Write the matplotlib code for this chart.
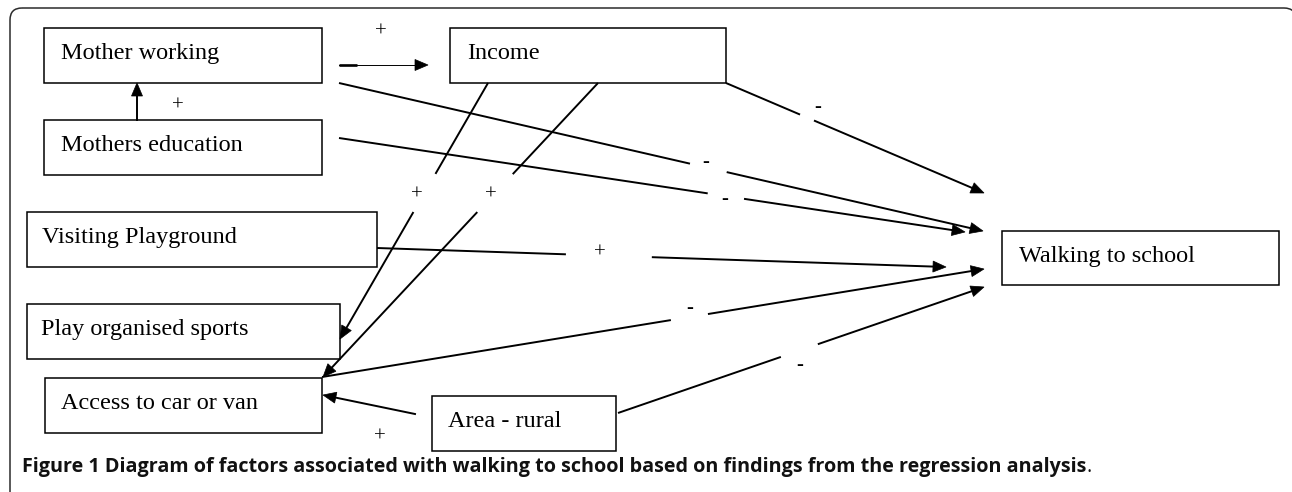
import matplotlib
matplotlib.use("Agg")
import matplotlib.pyplot as plt
from matplotlib.patches import Rectangle, FancyBboxPatch, Polygon
import numpy as np

# ---------------- data ----------------
node_names = ["Mother working", "Income", "Mothers education", "Visiting Playground",
              "Play organised sports", "Access to car or van", "Area - rural",
              "Walking to school"]
edge_sources = ["Mother working", "Mothers education", "Mother working", "Mothers education",
                "Income", "Income", "Income", "Visiting Playground",
                "Access to car or van", "Area - rural", "Area - rural"]
edge_targets = ["Income", "Mother working", "Walking to school", "Walking to school",
                "Walking to school", "Play organised sports", "Access to car or van",
                "Walking to school", "Walking to school", "Access to car or van",
                "Walking to school"]
edge_signs = ["+", "+", "-", "-", "-", "+", "+", "+", "-", "+", "-"]
caption_bold = "Figure 1 Diagram of factors associated with walking to school based on findings from the regression analysis"
caption_end = "."

# ---------------- layout (pixel space) ----------------
W, H = 1292, 492
box_geom = {  # x0, x1, y0 (top), y1 (bottom)
    "Mother working": (44, 322, 28, 83),
    "Income": (450, 726, 28, 83),
    "Mothers education": (44, 322, 120, 175),
    "Visiting Playground": (27, 377, 212, 267),
    "Play organised sports": (27, 340, 304, 359),
    "Access to car or van": (45, 322, 378, 433),
    "Area - rural": (432, 616, 396, 451),
    "Walking to school": (1002, 1279, 231, 285),
}
text_dx = {"Mother working": 17, "Income": 17, "Mothers education": 17,
           "Visiting Playground": 15, "Play organised sports": 14,
           "Access to car or van": 16, "Area - rural": 16, "Walking to school": 17}
# per-edge geometry: start, end, gap (fractions along line) and sign label position
edge_geom = [
    ((339, 65), (428, 65), None, (381, 32)),
    ((137, 120), (137, 83), None, (178, 106)),
    ((339, 83), (983, 231), (0.545, 0.602), (706, 162)),
    ((339, 138), (965, 232), (0.589, 0.647), (725, 199)),
    ((726, 83), (984, 193), (0.287, 0.341), (818, 107)),
    ((488, 83), (340, 339), (0.355, 0.504), (417, 195)),
    ((598, 83), (323, 377), (0.31, 0.439), (491, 195)),
    ((377, 248), (946, 267), (0.332, 0.483), (600, 253)),
    ((322, 377), (984, 269), (0.527, 0.583), (690, 308)),
    ((415, 414), (323, 395), None, (380, 437)),
    ((618, 413), (984, 287), (0.445, 0.546), (800, 365)),
]

fig = plt.figure(figsize=(W / 100, H / 100), dpi=100)
ax = fig.add_axes([0, 0, 1, 1])
ax.set_xlim(0, W)
ax.set_ylim(H, 0)
ax.axis("off")

SERIF = ["Liberation Serif", "DejaVu Serif"]

# outer frame
frame = FancyBboxPatch((10, 8), 1286, 700, boxstyle="round,pad=0,rounding_size=12",
                       fill=False, ec="#2b2b2b", lw=1.1)
ax.add_patch(frame)

# boxes
for name in node_names:
    x0, x1, y0, y1 = box_geom[name]
    ax.add_patch(Rectangle((x0, y0), x1 - x0, y1 - y0, fc="white", ec="black", lw=1.1, zorder=2))
    ax.text(x0 + text_dx[name], y0 + 31, name, fontsize=17.5, family=SERIF,
            ha="left", va="baseline", color="black", zorder=3)

LW = 1.4
HEAD_L, HEAD_W = 13, 5.5


def arrow_head(p0, p1):
    p0 = np.array(p0, float)
    p1 = np.array(p1, float)
    d = (p1 - p0) / np.linalg.norm(p1 - p0)
    n = np.array([-d[1], d[0]])
    base = p1 - d * HEAD_L
    ax.add_patch(Polygon([p1, base + n * HEAD_W, base - n * HEAD_W], closed=True,
                         fc="black", ec="black", lw=0.5, zorder=4))
    return base


for i, (src, tgt, sign) in enumerate(zip(edge_sources, edge_targets, edge_signs)):
    start, end, gap, lab = edge_geom[i]
    s = np.array(start, float)
    e = np.array(end, float)
    d = e - s
    dn = d / np.linalg.norm(d)
    base = arrow_head(s, e)
    line_end = base + dn * 2
    if i == 0:
        # thin line with thicker stub at start
        ax.plot([s[0], line_end[0]], [s[1], line_end[1]], color="black", lw=0.7, zorder=3)
        stub = s + dn * 18
        ax.plot([s[0], stub[0]], [s[1], stub[1]], color="black", lw=1.9, zorder=3,
                solid_capstyle="butt")
    elif gap is None:
        ax.plot([s[0], line_end[0]], [s[1], line_end[1]], color="black", lw=LW, zorder=3)
    else:
        g0 = s + d * gap[0]
        g1 = s + d * gap[1]
        ax.plot([s[0], g0[0]], [s[1], g0[1]], color="black", lw=LW, zorder=3,
                solid_capstyle="butt")
        ax.plot([g1[0], line_end[0]], [g1[1], line_end[1]], color="black", lw=LW, zorder=3,
                solid_capstyle="butt")
    ax.text(lab[0], lab[1] + 5, sign, fontsize=15, family=SERIF, ha="center",
            va="baseline", color="black", zorder=5)

# caption: fit to target width
cap_x0, cap_x1, cap_y = 22, 1090, 472
cap_font = ["Open Sans", "DejaVu Sans"]
t = ax.text(cap_x0, cap_y, caption_bold, fontsize=12, family=cap_font, weight="bold",
            ha="left", va="baseline", color="#111111")
fig.canvas.draw()
r = fig.canvas.get_renderer()
bb = t.get_window_extent(r)
t.set_fontsize(12 * (cap_x1 - cap_x0 - 6) / bb.width)
fig.canvas.draw()
bb = t.get_window_extent(r)
ax.text(cap_x0 + bb.width, cap_y, caption_end, fontsize=t.get_fontsize(), family=cap_font,
        ha="left", va="baseline", color="#111111")

fig.savefig("out.png", dpi=100, facecolor="white")
